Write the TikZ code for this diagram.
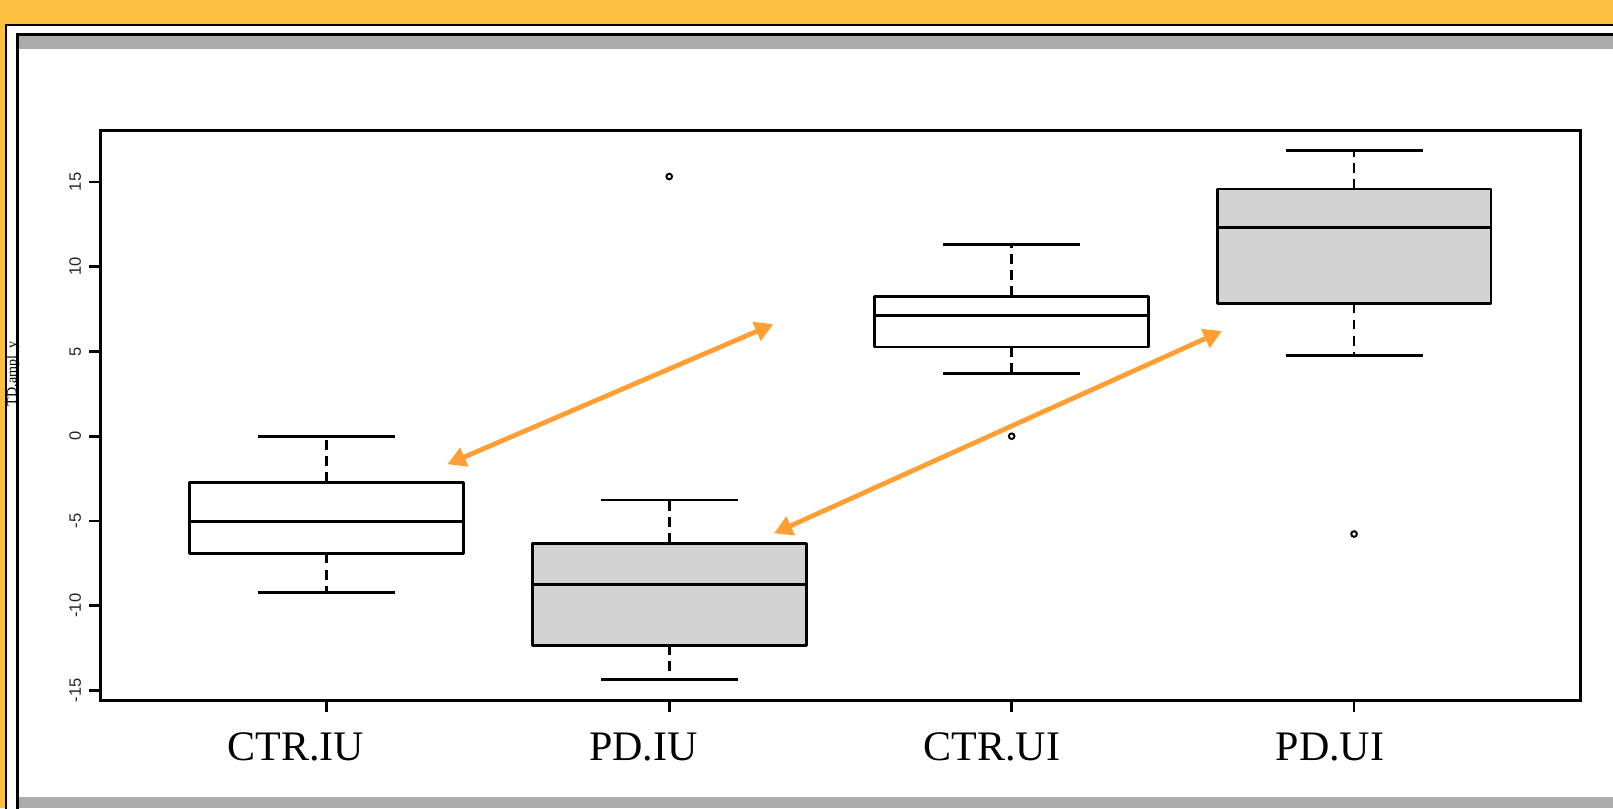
\documentclass[tikz,border=0pt]{standalone}
\usepackage{fontspec}
\setmainfont{Liberation Serif}
\newfontfamily\axisfont{Liberation Sans}
\usetikzlibrary{arrows.meta}
\definecolor{slidebg}{RGB}{255,190,64}
\definecolor{bandgray}{RGB}{171,171,171}
\definecolor{linkorange}{RGB}{255,158,51}
\definecolor{boxgray}{RGB}{211,211,211}
\tikzset{
  frameln/.style={line width=0.85pt},
  boxln/.style={line width=0.8pt, line join=round},
  medln/.style={line width=0.8pt},
  whiskln/.style={line width=0.8pt, dash pattern=on 2.8pt off 1.8pt},
  capln/.style={line width=0.8pt},
  linkarrow/.style={{Triangle[length=5.2pt,width=5.6pt]}-{Triangle[length=5.2pt,width=5.6pt]}, line width=1.35pt, linkorange},
  outlier/.style={line width=0.55pt},
}
% one box: position, fill, lower whisker, lower hinge, median, upper hinge, upper whisker
\newcommand{\bxplot}[7]{%
  \draw[whiskln] (#1,#4) -- (#1,#3);
  \draw[whiskln] (#1,#6) -- (#1,#7);
  \draw[capln] (#1-0.2,#3) -- (#1+0.2,#3);
  \draw[capln] (#1-0.2,#7) -- (#1+0.2,#7);
  \filldraw[boxln, fill=#2] (#1-0.4,#4) rectangle (#1+0.4,#6);
  \draw[medln] (#1-0.4,#5) -- (#1+0.4,#5);
}
\newcommand{\outpt}[2]{\draw[outlier] (#1,#2) circle (0.8pt);}

\begin{document}
\begin{tikzpicture}[x=0.01cm, y=-0.01cm]
  \useasboundingbox (0,0) rectangle (1613,808);
  \clip (0,0) rectangle (1613,808);
  % Slide background and frames
  \fill[slidebg] (0,0) rectangle (1613,808);
  \filldraw[fill=white, line width=0.5pt] (5.8,25) rectangle (1640,840);
  \node[rotate=90, anchor=base, inner sep=0pt, font=\fontsize{4pt}{5pt}\selectfont] (ylab) at (16.3,374) {TD.ampl\_y};
  \draw[line width=0.8pt] (17.3,34.3) rectangle (1640,840);
  \fill[bandgray] (18.7,35.6) rectangle (1613,49.3);
  \fill[bandgray] (18.7,797) rectangle (1613,808);
  % Boxplot panel in data coordinates
  \begin{scope}[shift={(-15.55,436.2)}, x=3.422cm, y=0.1694cm]
    \draw[frameln] (0.34,-15.61) rectangle (4.66,18.04);
    \foreach \v [count=\i] in {-15,-10,-5,0,5,10,15} {
      \draw[capln] (0.34,\v) -- ++(-3.3pt,0);
      \node[rotate=90, inner sep=0pt, text=black!85, font=\axisfont\fontsize{4.7pt}{5.5pt}\selectfont] (yl\i) at ([xshift=-7.3pt]0.34,\v) {\v};
    }
    \foreach \p in {1,...,4}
      \draw[capln] (\p,-15.61) -- ++(0,-3.2pt);
    \bxplot{1}{white}{-9.21}{-6.92}{-5.05}{-2.72}{0}
    \bxplot{2}{boxgray}{-14.33}{-12.33}{-8.74}{-6.32}{-3.76}
    \bxplot{3}{white}{3.71}{5.26}{7.11}{8.26}{11.30}
    \bxplot{4}{boxgray}{4.74}{7.84}{12.33}{14.58}{16.88}
    \outpt{2}{15.32}
    \outpt{3}{0}
    \outpt{4}{-5.77}
  \end{scope}
  % Group labels
  \node[anchor=base, inner sep=0pt, font=\fontsize{11.95pt}{14pt}\selectfont] (lblctriu) at (296,760) {CTR.IU};
  \node[anchor=base, inner sep=0pt, font=\fontsize{11.95pt}{14pt}\selectfont] (lblpdiu) at (643.5,760) {PD.IU};
  \node[anchor=base, inner sep=0pt, font=\fontsize{11.95pt}{14pt}\selectfont] (lblctrui) at (992,760) {CTR.UI};
  \node[anchor=base, inner sep=0pt, font=\fontsize{11.95pt}{14pt}\selectfont] (lblpdui) at (1330,760) {PD.UI};
  % Links between groups
  \coordinate (ctriutip) at (447.5,464.2);
  \coordinate (ctruitip) at (773.3,324.2);
  \coordinate (pdiutip) at (774,533.3);
  \coordinate (pduitip) at (1222,331);
  \draw[linkarrow] (ctriutip) -- (ctruitip);
  \draw[linkarrow] (pdiutip) -- (pduitip);
\end{tikzpicture}
\end{document}
